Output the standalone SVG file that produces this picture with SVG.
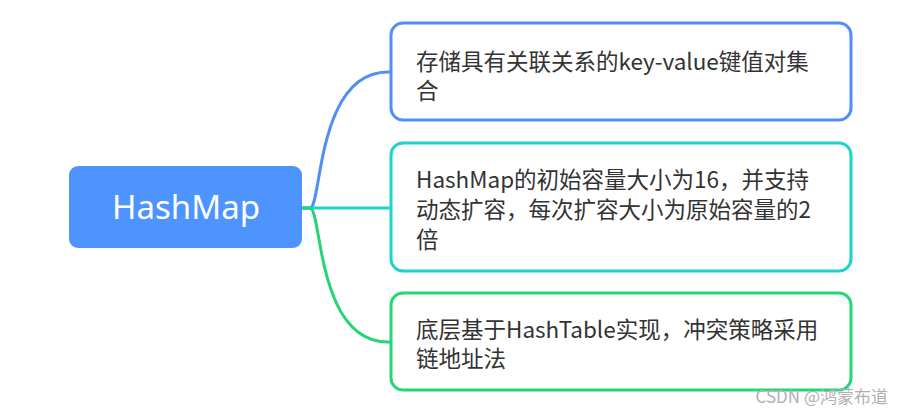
<svg xmlns="http://www.w3.org/2000/svg" width="903" height="414" viewBox="0 0 903 414">
<style>
.box{fill:#fff;stroke-width:3}
.t{font-family:"Noto Sans CJK SC","Noto Sans",sans-serif;font-size:22.5px;fill:#333}
.c{fill:none;stroke-width:3}
</style>
<rect width="903" height="414" fill="#fff"/>
<g id="connectors">
<path class="c" stroke="#4f8ff6" d="M302 208 H310 C322 208 316 72 388 72 H391"/>
<path class="c" stroke="#1dd3cb" d="M302 208 H391"/>
<path class="c" stroke="#25d577" d="M302 208 H310 C322 208 316 342 388 342 H391"/>
</g>
<g id="root">
<rect x="69" y="166" width="233" height="82" rx="9" fill="#4d94ff"/>
<text x="186" y="219" text-anchor="middle" font-family="'Noto Sans','Open Sans',sans-serif" font-size="33" fill="#fff">HashMap</text>
</g>
<g id="n1">
<rect class="box" x="391" y="23" width="460" height="97" rx="12" stroke="#4f8ff6"/>
<text class="t" x="416" y="70">存储具有关联关系的key-value键值对集</text>
<text class="t" x="416" y="99">合</text>
</g>
<g id="n2">
<rect class="box" x="391" y="143" width="460" height="128" rx="12" stroke="#1dd3cb"/>
<text class="t" x="416" y="188">HashMap的初始容量大小为16，并支持</text>
<text class="t" x="416" y="218">动态扩容，每次扩容大小为原始容量的2</text>
<text class="t" x="416" y="248">倍</text>
</g>
<g id="n3">
<rect class="box" x="391" y="293" width="460" height="97" rx="12" stroke="#25d577"/>
<text class="t" x="416" y="338">底层基于HashTable实现，冲突策略采用</text>
<text class="t" x="416" y="367">链地址法</text>
</g>
<text x="888" y="403" text-anchor="end" font-family="'Noto Sans CJK SC',sans-serif" font-size="17" fill="#b0b0b0">CSDN @鸿蒙布道</text>
</svg>
